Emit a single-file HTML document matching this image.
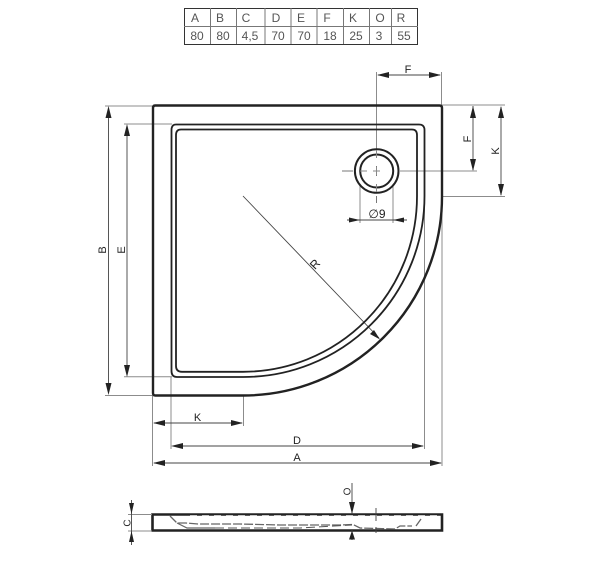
<!DOCTYPE html>
<html>
<head>
<meta charset="utf-8">
<style>
html,body{margin:0;padding:0;background:#fff;width:615px;height:562px;overflow:hidden}
svg{display:block}
text{font-family:"Liberation Sans",sans-serif;fill:#333}
.t{font-size:12px;fill:#555;text-anchor:middle}
.l{font-size:11px;text-anchor:middle;fill:#222}
.g{stroke:#8c8c8c;stroke-width:1;fill:none}
.d{stroke:#444;stroke-width:.9;fill:none}
.k{stroke:#222;fill:none}
.a{fill:#222;stroke:none}
</style>
</head>
<body>
<svg width="615" height="562" viewBox="0 0 615 562" xmlns="http://www.w3.org/2000/svg">
<!-- table -->
<g>
<rect x="184.5" y="8.500" width="233" height="36" fill="none" stroke="#333" stroke-width="1"/>
<path d="M184 26.500H418M210.500 8V44M236.500 8V44M265 8V44M291 8V44M317 8V44M343.500 8V44M369.500 8V44M391.500 8V44" stroke="#777" stroke-width="1" fill="none"/>
<text class="t" x="195" y="22">A</text><text class="t" x="220" y="22">B</text><text class="t" x="246" y="22">C</text><text class="t" x="276" y="22">D</text><text class="t" x="301" y="22">E</text><text class="t" x="327" y="22">F</text><text class="t" x="353" y="22">K</text><text class="t" x="380" y="22">O</text><text class="t" x="401" y="22">R</text>
<text class="t" x="197" y="40">80</text><text class="t" x="223" y="40">80</text><text class="t" x="250" y="40">4,5</text><text class="t" x="278" y="40">70</text><text class="t" x="304" y="40">70</text><text class="t" x="330" y="40">18</text><text class="t" x="356" y="40">25</text><text class="t" x="379" y="40">3</text><text class="t" x="404" y="40">55</text>
</g>
<!-- extension lines -->
<path class="g" d="M105 106H152M105 395.500H152M124 124H172M124 376.700H172
M152.500 395V466M171 377V449M243.500 395V426M424.500 196V449M442 196V466
M376.500 72V150M441.500 72V105M442 105H505M400 171H477M443 196.500H505
M360 186V223M393 186V223"/>
<!-- drain center lines -->
<path d="M342 171H353M373 171H380M376.500 166V176M376.500 196V203" stroke="#777" fill="none"/>
<!-- dim lines -->
<path class="d" d="M108.500 108V393M127 126V375M154 423H242M173 446H423M154 463H441M378 75H440M473 106V170M501 107V195M347 220H407M243 196L379 338"/>
<!-- arrows -->
<g class="a">
<path d="M108.500 106l-3 12h6zM108.500 395l-3-12h6z"/>
<path d="M127 124l-3 12h6zM127 377l-3-12h6z"/>
<path d="M153 423l12-3v6zM243 423l-12-3v6z"/>
<path d="M171 446l12-3v6zM424 446l-12-3v6z"/>
<path d="M153 463l12-3v6zM442 463l-12-3v6z"/>
<path d="M377 75l12-3v6zM441 75l-12-3v6z"/>
<path d="M473 106l-3 12h6zM473 171l-3-12h6z"/>
<path d="M501 106l-3 12h6zM501 196l-3-12h6z"/>
<path d="M360 220l-11-2.500v5zM393 220l11-2.500v5z"/>
<path d="M380 339.500l-10-5.500 4-4z"/>
</g>
<!-- tray plan -->
<path class="k" stroke-width="2.400" stroke-linejoin="round" d="M155 105.500H439.500Q442 105.500 442 108V196.500A199 199 0 0 1 243 395.500H155.500Q153 395.500 153 393V108Q153 105.500 155 105.500Z"/>
<path class="k" stroke-width="1.800" d="M176 124.500H419Q424.500 124.500 424.500 130V196A181 181 0 0 1 243.500 377H177Q171.500 377 171.500 371V130Q171.500 124.500 176 124.500Z"/>
<path class="k" stroke-width="1.800" d="M181 129.500H412Q417 129.500 417 135V196A174 175.500 0 0 1 243 371.800H182Q176 371.800 176 366V135Q176 129.500 181 129.500Z"/>
<circle class="k" cx="376.700" cy="171" r="21.800" stroke-width="2" fill="#fff"/>
<circle class="k" cx="376.700" cy="171" r="16.500" stroke-width="2"/>
<path d="M360 171H367M373 171H380M376.500 150V158M376.500 167V175M376.500 184V192" stroke="#888" fill="none"/>
<!-- labels -->
<text class="l" x="408" y="73">F</text>
<text class="l" x="377" y="218" style="font-size:12px">&#8709;9</text>
<text class="l" x="197.500" y="421">K</text>
<text class="l" x="297" y="444">D</text>
<text class="l" x="297" y="461">A</text>
<text class="l" transform="translate(106 250) rotate(-90)">B</text>
<text class="l" transform="translate(125 250) rotate(-90)">E</text>
<text class="l" transform="translate(471 139) rotate(-90)">F</text>
<text class="l" transform="translate(499 151) rotate(-90)">K</text>
<text class="l" transform="translate(318 267) rotate(-47)" style="font-size:12px">R</text>
<!-- side view -->
<path class="k" stroke-width="2.600" d="M152.500 514.500H442V530.500H152.500Z"/>
<path d="M190 515.600H438" stroke="#fff" stroke-width=".8" stroke-dasharray="7 5" fill="none"/>
<path d="M170 516L177 523H186L198 524L240 524 L280 525 L340 525 L352 524.500H353L360 528L395 529L400 526L412 526M416 526L421 519" stroke="#666" stroke-width="1.300" fill="none" stroke-dasharray="9 2"/>
<path d="M177 523L187 528H215" stroke="#666" stroke-width="1.200" fill="none"/>
<path d="M215 528H300L352 525" stroke="#555" stroke-width="1" stroke-dasharray="9 4" fill="none"/>
<path class="g" d="M128 514.500H152M128 531H152"/>
<path class="d" d="M131.500 500V545"/>
<path class="a" d="M131.500 514l-2.500-11h5zM131.500 531l-2.500 11h5z"/>
<path class="d" d="M352 483V514M352 530V540M376 508V521M376 527V533"/>
<path class="a" d="M352 514l-3-12h6zM352 530.500l-3 9h6z"/>
<text class="l" transform="translate(130.500 523) rotate(-90)" style="font-size:10px">C</text>
<text class="l" transform="translate(350.500 491.500) rotate(-90)" style="font-size:10px">O</text>
</svg>
</body>
</html>
